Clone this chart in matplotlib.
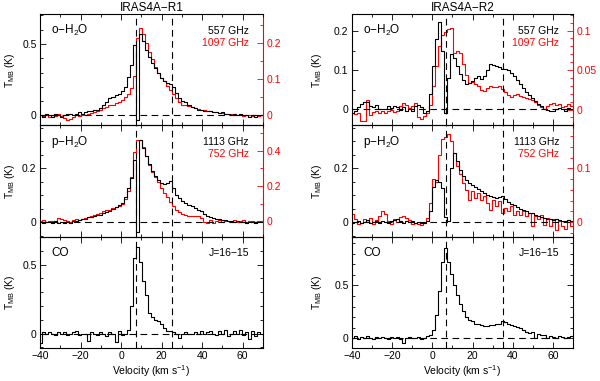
import numpy as np
import matplotlib
matplotlib.use("Agg")
import matplotlib.pyplot as plt
from matplotlib.ticker import MultipleLocator, FuncFormatter

plt.rcParams['font.family'] = ['Liberation Sans', 'DejaVu Sans']
plt.rcParams['mathtext.fontset'] = 'custom'
plt.rcParams['mathtext.rm'] = 'Liberation Sans'
plt.rcParams['mathtext.it'] = 'Liberation Sans:italic'
plt.rcParams['mathtext.bf'] = 'Liberation Sans:bold'

# velocity grid: first channel and channel width (km/s)
V0 = -40.0
DV = 1.5

# ---------------- IRAS4A-R1 ----------------
r1_557 = [0.00, -0.01, 0.01, 0.00, -0.01, 0.01, 0.00, -0.01, 0.00, 0.01,
          0.01, 0.00, 0.01, 0.02, 0.01, 0.02, 0.03, 0.03, 0.04, 0.04,
          0.05, 0.07, 0.09, 0.12, 0.13, 0.14, 0.15, 0.17, 0.20, 0.27,
          0.35, 0.49, -0.03, 0.57, 0.52, 0.46, 0.41, 0.37, 0.33, 0.30,
          0.26, 0.24, 0.23, 0.22, 0.20, 0.16, 0.12, 0.10, 0.09, 0.07,
          0.06, 0.05, 0.04, 0.035, 0.03, 0.03, 0.03, 0.02, 0.02, 0.015,
          0.02, 0.01, 0.01, 0.00, 0.01, 0.00, 0.01, 0.00, 0.00, -0.01,
          0.00, -0.015, 0.00, 0.00]
r1_1097 = [0.000, -0.003, 0.002, -0.005, 0.000, -0.003, 0.003, -0.002, -0.008, -0.012,
           -0.010, -0.005, 0.000, -0.003, 0.002, 0.000, 0.003, 0.006, 0.010, 0.012,
           0.014, 0.020, 0.022, 0.028, 0.030, 0.035, 0.038, 0.042, 0.050, 0.058,
           0.075, 0.110, 0.215, 0.243, 0.225, 0.200, 0.175, 0.155, 0.135, 0.118,
           0.105, 0.095, 0.082, 0.070, 0.058, 0.047, 0.036, 0.030, 0.028, 0.025,
           0.022, 0.020, 0.018, 0.016, 0.015, 0.012, 0.013, 0.010, 0.010, 0.008,
           0.007, 0.005, 0.003, 0.004, 0.000, 0.002, 0.000, -0.002, 0.001, 0.000,
           -0.002, 0.000, -0.003, 0.000]
r1_1113 = [0.000, -0.003, 0.002, 0.000, -0.004, 0.003, -0.002, 0.002, -0.003, 0.000,
           -0.003, 0.003, 0.005, 0.008, 0.012, 0.012, 0.018, 0.020, 0.024, 0.026,
           0.028, 0.032, 0.036, 0.040, 0.048, 0.056, 0.065, 0.072, 0.095, 0.125,
           0.165, 0.232, -0.035, 0.303, 0.275, 0.245, 0.215, 0.190, 0.170, 0.158,
           0.145, 0.140, 0.146, 0.153, 0.125, 0.100, 0.088, 0.078, 0.070, 0.063,
           0.058, 0.052, 0.046, 0.040, 0.030, 0.024, 0.018, 0.014, 0.012, 0.010,
           0.008, 0.006, 0.004, 0.005, 0.002, 0.003, 0.000, 0.002, -0.002, 0.001,
           0.000, -0.002, 0.001, 0.000]
r1_752 = [0.000, 0.005, -0.005, 0.003, 0.000, -0.004, 0.020, 0.010, 0.008, 0.000,
          -0.005, 0.004, 0.010, 0.008, 0.015, 0.020, 0.026, 0.030, 0.036, 0.040,
          0.048, 0.055, 0.062, 0.066, 0.072, 0.078, 0.088, 0.100, 0.125, 0.170,
          0.250, 0.390, 0.460, 0.462, 0.420, 0.370, 0.320, 0.280, 0.250, 0.220,
          0.190, 0.160, 0.135, 0.110, 0.085, 0.065, 0.050, 0.040, 0.035, 0.030,
          0.028, 0.027, 0.030, 0.020, -0.005, -0.010, 0.005, -0.008, 0.000, 0.005,
          -0.005, 0.003, 0.000, -0.006, 0.004, -0.002, 0.000, 0.005, -0.004, 0.000,
          0.003, -0.003, 0.002, 0.000]
r1_co = [-0.07, 0.01, 0.00, 0.01, 0.00, -0.01, 0.01, 0.00, 0.01, -0.01,
         0.00, 0.01, 0.02, -0.01, 0.00, 0.00, -0.05, 0.01, 0.00, -0.01,
         0.01, 0.00, -0.02, 0.01, 0.00, -0.06, 0.02, -0.01, 0.00, 0.03,
         0.20, 0.55, 0.63, 0.52, 0.38, 0.28, 0.15, 0.12, 0.10, 0.09,
         0.07, 0.04, 0.02, 0.02, 0.01, 0.00, -0.03, 0.00, 0.01, 0.00,
         0.00, 0.01, 0.00, 0.02, 0.00, 0.01, 0.02, 0.00, -0.01, 0.02,
         0.00, 0.03, -0.02, 0.00, 0.02, 0.00, 0.03, -0.01, 0.01, -0.04,
         0.02, -0.02, 0.01, 0.00]

# ---------------- IRAS4A-R2 ----------------
r2_557 = [-0.008, -0.005, 0.005, 0.015, 0.020, 0.018, 0.010, 0.005, 0.012, 0.000,
          0.002, 0.000, 0.008, 0.004, 0.010, 0.005, -0.002, 0.006, -0.004, 0.000,
          -0.003, 0.010, 0.012, 0.005, -0.008, -0.005, 0.040, 0.110, 0.180, 0.222,
          0.150, -0.010, 0.080, 0.140, 0.130, 0.110, 0.090, 0.074, 0.066, 0.068,
          0.072, 0.080, 0.086, 0.078, 0.085, 0.100, 0.115, 0.113, 0.110, 0.107,
          0.104, 0.102, 0.100, 0.092, 0.085, 0.075, 0.065, 0.055, 0.045, 0.036,
          0.030, 0.022, 0.015, 0.008, 0.002, -0.002, -0.005, -0.003, 0.002, 0.004,
          0.000, -0.004, 0.003, 0.000]
r2_1097 = [-0.005, -0.006, -0.004, -0.015, -0.014, 0.012, -0.007, -0.003, -0.002, -0.004,
           -0.002, -0.004, -0.002, 0.000, -0.003, -0.002, 0.004, 0.008, 0.006, 0.002,
           0.005, 0.008, -0.010, -0.012, -0.008, -0.004, 0.006, 0.030, 0.055, 0.080,
           0.094, 0.098, 0.102, 0.103, 0.072, 0.074, 0.072, 0.058, 0.044, 0.034,
           0.035, 0.032, 0.030, 0.025, 0.024, 0.027, 0.030, 0.029, 0.028, 0.030,
           0.026, 0.022, 0.018, 0.016, 0.018, 0.020, 0.017, 0.016, 0.014, 0.013,
           0.012, 0.010, 0.006, 0.003, 0.001, 0.004, 0.007, 0.008, 0.006, 0.007,
           0.003, 0.005, 0.007, 0.004]
r2_1113 = [-0.004, 0.000, 0.003, -0.005, 0.000, 0.006, -0.003, 0.002, 0.005, -0.002,
           0.004, 0.000, -0.004, 0.003, 0.006, 0.010, 0.004, -0.002, 0.003, 0.000,
           0.004, -0.003, 0.000, -0.004, -0.003, 0.005, 0.040, 0.130, 0.158, 0.150,
           0.125, 0.020, 0.005, 0.200, 0.255, 0.225, 0.195, 0.172, 0.158, 0.146,
           0.137, 0.130, 0.122, 0.115, 0.108, 0.102, 0.098, 0.094, 0.090, 0.092,
           0.097, 0.085, 0.076, 0.068, 0.062, 0.056, 0.050, 0.045, 0.040, 0.035,
           0.033, 0.028, 0.022, 0.018, 0.015, 0.013, 0.010, 0.009, 0.011, 0.008,
           0.005, 0.003, 0.006, 0.004]
r2_752 = [0.016, 0.005, -0.004, -0.002, 0.006, 0.000, 0.008, -0.004, 0.004, 0.012,
          0.020, 0.016, 0.002, -0.003, 0.005, 0.000, 0.010, 0.012, 0.008, 0.004,
          -0.003, -0.002, -0.004, -0.006, -0.002, 0.008, 0.036, 0.080, 0.075, 0.125,
          0.155, 0.158, 0.164, 0.150, 0.128, 0.105, 0.090, 0.072, 0.060, 0.042,
          0.058, 0.045, 0.055, 0.042, 0.048, 0.036, 0.023, 0.042, 0.030, 0.039,
          0.017, 0.026, 0.020, 0.030, 0.014, 0.020, 0.014, 0.020, 0.011, 0.017,
          -0.008, 0.011, 0.005, 0.014, -0.005, 0.008, -0.008, 0.006, -0.014, 0.002,
          -0.008, -0.012, 0.004, -0.008]
r2_co = [0.00, 0.02, -0.01, 0.01, 0.00, 0.02, 0.00, -0.01, 0.01, 0.00,
         0.01, 0.00, -0.01, 0.01, 0.00, 0.01, -0.01, -0.04, 0.00, 0.01,
         0.00, 0.00, 0.01, -0.01, 0.00, 0.02, 0.03, 0.08, 0.22, 0.45,
         0.72, 0.85, 0.72, 0.61, 0.50, 0.41, 0.32, 0.26, 0.20, 0.17,
         0.16, 0.14, 0.14, 0.13, 0.12, 0.12, 0.13, 0.13, 0.14, 0.14,
         0.16, 0.15, 0.14, 0.13, 0.12, 0.11, 0.10, 0.08, 0.06, 0.05,
         0.06, 0.00, 0.04, 0.03, 0.03, 0.00, 0.02, 0.01, 0.00, 0.02,
         0.01, 0.00, 0.01, 0.02]

titles = ["IRAS4A\u2212R1", "IRAS4A\u2212R2"]
vlines = [[7.3, 25.0], [7.0, 35.0]]

# panel definitions
panels = {
    0: [  # R1 column
        dict(black=r1_557, red=r1_1097, name="o\u2212H$_2$O", lab1="557 GHz", lab2="1097 GHz",
             ylim=(-0.07, 0.71), ymaj=0.5, ymin=0.1, rylim=(-0.0275, 0.281), rmaj=0.1, rmin=0.05),
        dict(black=r1_1113, red=r1_752, name="p\u2212H$_2$O", lab1="1113 GHz", lab2="752 GHz",
             ylim=(-0.054, 0.359), ymaj=0.2, ymin=0.05, rylim=(-0.088, 0.544), rmaj=0.2, rmin=0.1),
        dict(black=r1_co, red=None, name="CO", lab1="J=16\u221215", lab2=None,
             ylim=(-0.104, 0.703), ymaj=0.5, ymin=0.1),
    ],
    1: [  # R2 column
        dict(black=r2_557, red=r2_1097, name="o\u2212H$_2$O", lab1="557 GHz", lab2="1097 GHz",
             ylim=(-0.0405, 0.243), ymaj=0.1, ymin=0.05, rylim=(-0.020, 0.121), rmaj=0.05, rmin=0.01),
        dict(black=r2_1113, red=r2_752, name="p\u2212H$_2$O", lab1="1113 GHz", lab2="752 GHz",
             ylim=(-0.054, 0.359), ymaj=0.2, ymin=0.05, rylim=(-0.027, 0.18), rmaj=0.1, rmin=0.02),
        dict(black=r2_co, red=None, name="CO", lab1="J=16\u221215", lab2=None,
             ylim=(-0.091, 0.959), ymaj=0.5, ymin=0.1),
    ],
}

fmt = FuncFormatter(lambda x, p: ("%g" % round(x, 4)).replace("-", "\u2212"))

W, H = 600.0, 381.0
col_x = [(40 / W, 223 / W), (352 / W, 221 / W)]
ylab_x = [-0.105, -0.125]
row_top = 14.0
row_h = (348.0 - 14.0) / 3.0

fig = plt.figure(figsize=(6.0, 3.81), dpi=100)
TFS = 7.5
DASH = (0, (6, 4))
for c in range(2):
    x0, w = col_x[c]
    for r in range(3):
        p = panels[c][r]
        top_px = row_top + r * row_h
        ax = fig.add_axes([x0, 1 - (top_px + row_h) / H, w, row_h / H])
        vb = V0 + DV * np.arange(len(p["black"]))
        ax.step(vb, p["black"], where="mid", color="black", lw=0.8, zorder=3)
        ax.set_xlim(-40, 70)
        ax.set_ylim(*p["ylim"])
        ax.axhline(0, color="black", lw=0.8, ls=DASH, zorder=2)
        for xv in vlines[c]:
            ax.axvline(xv, color="black", lw=0.8, ls=DASH, zorder=2)
        ax.xaxis.set_major_locator(MultipleLocator(20))
        ax.xaxis.set_minor_locator(MultipleLocator(10))
        ax.yaxis.set_major_locator(MultipleLocator(p["ymaj"]))
        ax.yaxis.set_minor_locator(MultipleLocator(p["ymin"]))
        ax.yaxis.set_major_formatter(fmt)
        ax.xaxis.set_major_formatter(fmt)
        has_red = p["red"] is not None
        ax.tick_params(which="both", direction="in", top=True, right=not has_red,
                       labelsize=TFS, pad=2.5)
        ax.tick_params(which="major", length=4, width=0.6)
        ax.tick_params(which="minor", length=2.5, width=0.6)
        for s in ax.spines.values():
            s.set_linewidth(0.8)
        ax.set_ylabel("T$_{\\rm MB}$ (K)", fontsize=7.5)
        ax.yaxis.set_label_coords(ylab_x[c], 0.5)
        if r < 2:
            ax.tick_params(labelbottom=False)
        else:
            ax.set_xlabel("Velocity (km s$^{-1}$)", fontsize=7.5, labelpad=1.5)
        if r == 0:
            ax.set_title(titles[c], fontsize=8.5, pad=2)
        ax.text(0.05, 0.85, p["name"], transform=ax.transAxes, fontsize=8.5,
                ha="left", va="center")
        ax.text(0.937, 0.85, p["lab1"], transform=ax.transAxes, fontsize=7.5,
                ha="right", va="center", color="black")
        if has_red:
            ax.spines["right"].set_visible(False)
            ax2 = ax.twinx()
            vr = V0 + DV * np.arange(len(p["red"]))
            ax2.step(vr, p["red"], where="mid", color="red", lw=0.8, zorder=2)
            ax2.set_ylim(*p["rylim"])
            ax2.set_xlim(-40, 70)
            ax2.yaxis.set_major_locator(MultipleLocator(p["rmaj"]))
            ax2.yaxis.set_minor_locator(MultipleLocator(p["rmin"]))
            ax2.yaxis.set_major_formatter(fmt)
            for k in ("left", "top", "bottom"):
                ax2.spines[k].set_visible(False)
            ax2.spines["right"].set_color("red")
            ax2.spines["right"].set_linewidth(0.8)
            ax2.tick_params(which="both", direction="in", colors="red",
                            labelsize=TFS, pad=2.5)
            ax2.tick_params(which="major", length=4, width=0.6)
            ax2.tick_params(which="minor", length=2.5, width=0.6)
            ax.text(0.937, 0.74, p["lab2"], transform=ax.transAxes, fontsize=7.5,
                    ha="right", va="center", color="red")
            ax.set_zorder(ax2.get_zorder() + 1)
            ax.patch.set_visible(False)

fig.savefig("out.png", dpi=100)
